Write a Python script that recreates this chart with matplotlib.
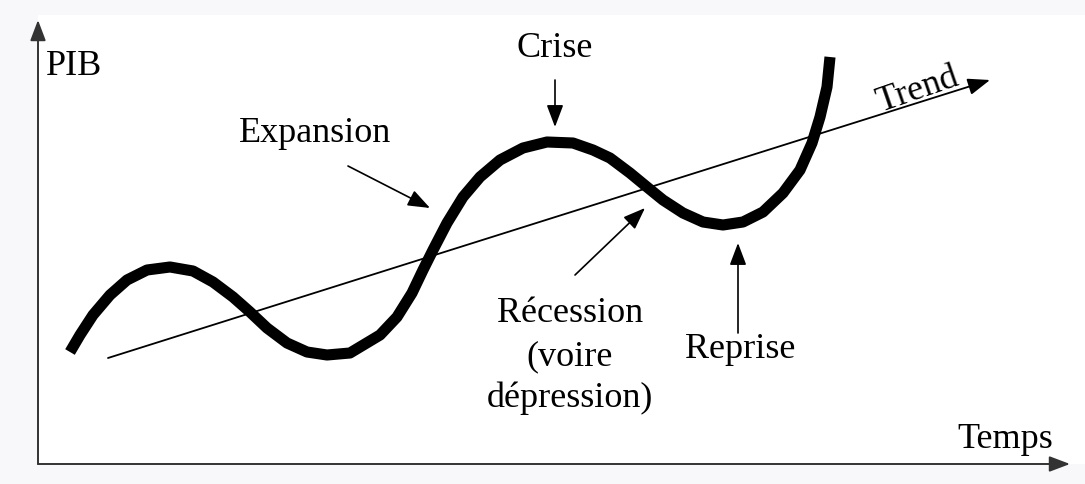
#Cycle économique : PIB autour de la tendance
import matplotlib
matplotlib.use("Agg")
import matplotlib.pyplot as plt

#valeurs (temps, PIB)
temps = [32, 42, 55, 72, 89, 109, 132, 155, 175, 195, 212, 229, 249, 269, 289,
         312, 322, 342, 359, 374, 385, 395, 409, 425, 442, 462, 485, 509, 535,
         555, 572, 592, 609, 625, 645, 665, 685, 705, 725, 745, 762, 774, 782,
         789, 792]
pib = [112, 129, 149, 169, 184, 194, 197, 193, 182, 167, 152, 136, 121, 112, 109,
       111, 117, 129, 147, 171, 194, 214, 241, 267, 287, 304, 316, 322, 321,
       314, 306, 291, 277, 264, 251, 242, 239, 242, 252, 271, 294, 321, 347,
       377, 407]

#droite de tendance
trend_t = [70, 952]
trend_pib = [106, 384]

#libellés et points visés par les flèches
etiquettes = ["Crise", "Expansion", "Reprise"]
pos_texte = [(517, 416), (277, 331), (702, 114)]
depart_fleche = [(517, 384), (310, 298), (700, 131)]
cible_fleche = [(517, 337), (392, 256), (700, 221)]

recession_lignes = ["Récession", "(voire", "dépression)"]
recession_y = [151, 107, 66]
recession_fleche = [(537, 189), (607, 256)]

plt.rcParams['font.family'] = ['Liberation Serif', 'DejaVu Serif']

fig = plt.figure(figsize=(10.85, 4.84), dpi=100, facecolor='#f8f8fa')
ax = fig.add_axes([38/1085, 20/484, 1047/1085, 449/484])
ax.set_xlim(0, 1047)
ax.set_ylim(0, 449)
ax.set_facecolor('white')
for s in ax.spines.values():
    s.set_visible(False)
ax.set_xticks([])
ax.set_yticks([])

style_tete = '-|>,head_length=0.45,head_width=0.17'

#axes avec flèches
fleche_axe = dict(arrowstyle=style_tete, mutation_scale=28,
                  lw=1.4, color='#333333', shrinkA=0, shrinkB=0)
ax.annotate("", xy=(0, 444), xytext=(0, 0), arrowprops=fleche_axe, annotation_clip=False)
ax.annotate("", xy=(1032, 0), xytext=(0, 0), arrowprops=fleche_axe, annotation_clip=False)

ax.text(8, 398, "PIB", fontsize=26, ha='left', va='center')
ax.text(967, 24, "Temps", fontsize=26, ha='center', va='center')

#tendance
ax.annotate("", xy=(trend_t[1], trend_pib[1]), xytext=(trend_t[0], trend_pib[0]),
            arrowprops=dict(arrowstyle=style_tete, mutation_scale=30, lw=1.3,
                            color='black', shrinkA=0, shrinkB=0))
ax.text(880, 374, "Trend", fontsize=26, ha='center', va='center', rotation=19,
        rotation_mode='anchor')

#courbe du PIB
ax.plot(temps, pib, color='black', lw=8, solid_capstyle='butt', solid_joinstyle='round')

fleche = dict(arrowstyle=style_tete, mutation_scale=30,
              lw=1.2, color='black', shrinkA=0, shrinkB=0)
for i in range(len(etiquettes)):
    ax.text(pos_texte[i][0], pos_texte[i][1], etiquettes[i], fontsize=26,
            ha='center', va='center')
    ax.annotate("", xy=cible_fleche[i], xytext=depart_fleche[i], arrowprops=fleche)

for i in range(len(recession_lignes)):
    ax.text(532, recession_y[i], recession_lignes[i], fontsize=26, ha='center', va='center')
ax.annotate("", xy=recession_fleche[1], xytext=recession_fleche[0], arrowprops=fleche)

fig.savefig("out.png", dpi=100, facecolor=fig.get_facecolor())
